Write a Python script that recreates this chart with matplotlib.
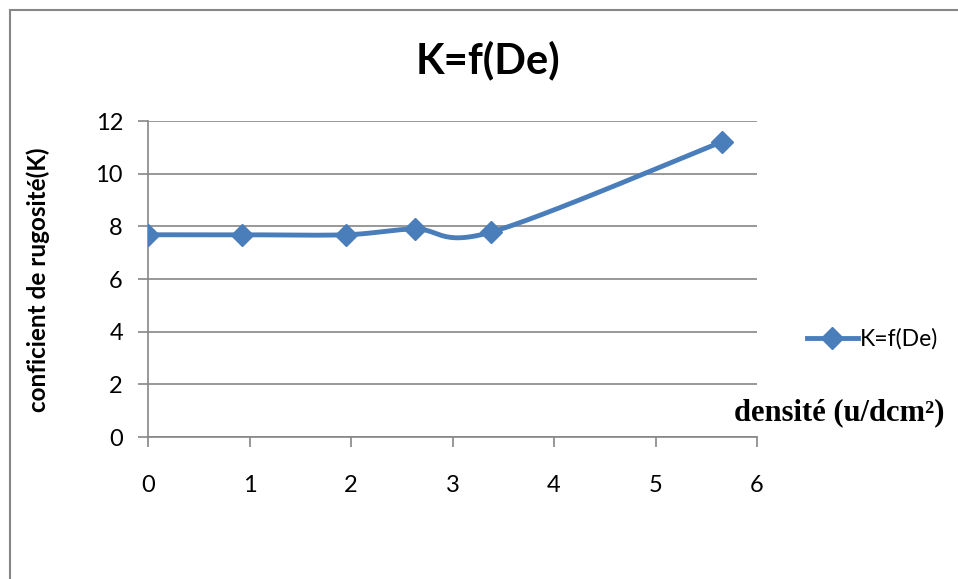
import numpy as np
import matplotlib.pyplot as plt
from matplotlib.patches import Rectangle

# donnees
densite = [0, 0.93, 1.95, 2.63, 3.38, 5.66]
K = [7.68, 7.68, 7.68, 7.9, 7.78, 11.22]
serie = 'K=f(De)'


def catmull_rom(x, y, n=30):
    # lissage type Excel (spline passant par les points)
    px = np.r_[x[0], x, x[-1]]
    py = np.r_[y[0], y, y[-1]]
    xs, ys = [], []
    for i in range(1, len(px) - 2):
        t = np.linspace(0, 1, n)
        for p, out in ((px, xs), (py, ys)):
            p0, p1, p2, p3 = p[i - 1], p[i], p[i + 1], p[i + 2]
            out.extend(0.5 * ((2 * p1) + (-p0 + p2) * t
                              + (2 * p0 - 5 * p1 + 4 * p2 - p3) * t ** 2
                              + (-p0 + 3 * p1 - 3 * p2 + p3) * t ** 3))
    return np.array(xs), np.array(ys)


plt.rcParams['font.family'] = ['Lato', 'DejaVu Sans']
gris = '#868686'
bleu = '#4A7EBB'

fig = plt.figure(figsize=(9.58, 5.79), dpi=100)
fig.patches.append(Rectangle((10 / 958, -0.1), 1.2, 1 - 10 / 579 + 0.1,
                             transform=fig.transFigure, fill=False,
                             edgecolor=gris, linewidth=1.5))

ax = fig.add_axes([148 / 958, 1 - 437 / 579, (757 - 148) / 958, (437 - 121) / 579])

xs, ys = catmull_rom(np.array(densite), np.array(K))
ax.plot(xs, ys, color=bleu, linewidth=3.5, solid_capstyle='round', zorder=3)
ax.plot(densite, K, linestyle='none', marker='D', markersize=11,
        color=bleu, zorder=4)
ax.plot([], [], color=bleu, linewidth=3.5, marker='D', markersize=11, label=serie)

ax.set_xlim(0, 6)
ax.set_ylim(0, 12)
ax.set_xticks(range(0, 7))
ax.set_yticks(range(0, 13, 2))
ax.grid(axis='y', color=gris, linewidth=1.2)
for s in ['top', 'right']:
    ax.spines[s].set_visible(False)
for s in ['left', 'bottom']:
    ax.spines[s].set_color(gris)
    ax.spines[s].set_linewidth(1.2)
ax.tick_params(axis='both', colors=gris, labelcolor='black', labelsize=17,
               length=7, width=1.2)
ax.tick_params(axis='y', pad=11)
ax.tick_params(axis='x', pad=20)
ax.set_axisbelow(True)

fig.text(488 / 958, 1 - 60 / 579, 'K=f(De)', ha='center', va='center',
         fontsize=30, fontweight='bold')
fig.text(38 / 958, 1 - 280 / 579, 'conficient de rugosité(K)', ha='center',
         va='center', rotation=90, fontsize=17.5, fontweight='bold')
fig.text(839 / 958, 1 - 413 / 579, 'densité (u/dcm²)', ha='center',
         va='center', fontsize=22, fontweight='bold',
         family=['Liberation Serif', 'DejaVu Serif'])

ax.legend(loc='center left', bbox_to_anchor=(798 / 958, 1 - 339 / 579),
          bbox_transform=fig.transFigure, frameon=False, fontsize=16.5,
          handlelength=2.2, handletextpad=0.1, borderaxespad=0)

fig.savefig('out.png', dpi=100)
